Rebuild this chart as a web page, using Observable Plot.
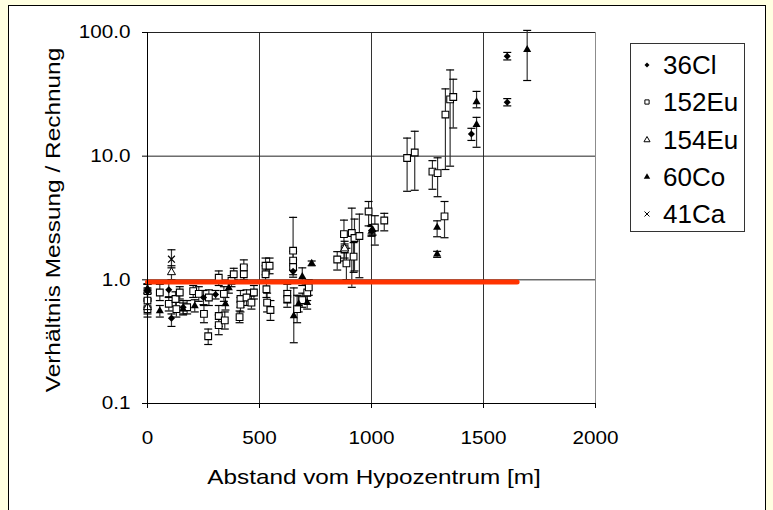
<!DOCTYPE html>
<html><head><meta charset="utf-8">
<script src="https://cdn.jsdelivr.net/npm/d3@7"></script>
<script src="https://cdn.jsdelivr.net/npm/@observablehq/plot@0.6"></script>
<style>
html,body{margin:0;padding:0;}
body{width:773px;height:510px;background:#FFFFE1;position:relative;overflow:hidden;font-family:"Liberation Sans",Arial,sans-serif;}
#box{position:absolute;left:8px;top:5px;width:758px;height:530px;background:#fff;border:1px solid #000;box-sizing:border-box;}
#chart{position:absolute;left:0;top:0;}
.title{position:absolute;white-space:nowrap;color:#000;transform-origin:center center;}
#xtitle{font-size:21px;line-height:21px;left:374px;top:466px;transform:translate(-50%,0) scaleX(1.156);}
#ytitle{font-size:20px;line-height:20px;left:53px;top:220px;transform:translate(-50%,-50%) rotate(-90deg) scaleX(1.22);}
#legend{position:absolute;left:630px;top:43px;width:115px;height:189px;border:1px solid #333;background:#fff;box-sizing:border-box;}
#legend .sym{position:absolute;}
#legend .lab{position:absolute;font-size:26px;line-height:26px;white-space:nowrap;color:#000;}
</style></head><body>
<div id="box"></div>
<div id="chart"></div>
<div id="xtitle" class="title">Abstand vom Hypozentrum [m]</div>
<div id="ytitle" class="title">Verhältnis Messung / Rechnung</div>
<div id="legend"></div>
<script>
// ---- data: [distance m, ratio, lower, upper] ----
const cl36 = [
  [0,0.80,0.70,0.92],[95,0.83,0.72,0.95],[107,0.49,0.42,0.53],[159,0.60,0.53,0.68],
  [250,0.72,0.63,0.82],[304,0.76,0.70,0.82],[650,1.17,1.05,1.30],[1000,2.50,2.30,2.75],
  [1446,15.1,13.4,16.8],[1606,27.3,25.5,29.2],[1606,64.3,60.0,69.0]
];
const eu152 = [
  [0,0.81,0.70,0.93],[0,0.68,0.60,0.78],[0,0.58,0.50,0.67],[55,0.79,0.68,0.92],
  [95,0.64,0.56,0.73],[125,0.70,0.61,0.80],[129,0.58,0.50,0.66],[144,0.79,0.70,0.88],
  [177,0.60,0.53,0.68],[204,0.81,0.72,0.90],[229,0.77,0.67,0.88],[252,0.53,0.45,0.62],
  [274,0.72,0.62,0.83],[271,0.35,0.30,0.40],[318,1.04,0.90,1.18],[318,0.51,0.42,0.62],
  [318,0.43,0.36,0.52],[341,0.77,0.67,0.88],[345,0.47,0.40,0.55],[375,0.98,0.88,1.08],
  [385,1.11,1.00,1.24],[411,0.50,0.45,0.56],[415,0.70,0.60,0.82],[415,0.63,0.55,0.72],
  [430,1.26,1.00,1.45],[430,1.11,0.95,1.30],[442,0.72,0.62,0.83],[464,0.655,0.58,0.74],
  [475,0.79,0.70,0.90],[527,1.30,1.10,1.50],[527,1.11,0.95,1.30],[545,1.30,1.12,1.50],
  [531,0.84,0.72,0.98],[534,0.655,0.55,0.78],[549,0.57,0.47,0.68],[624,0.77,0.65,0.92],
  [624,0.70,0.60,0.82],[650,1.72,1.20,3.20],[650,1.43,1.20,1.70],[650,1.27,1.10,1.45],
  [668,0.58,0.45,0.75],[691,0.685,0.60,0.78],[713,0.79,0.68,0.92],[720,0.87,0.75,1.00],
  [847,1.46,1.20,1.69],[877,2.34,1.42,3.04],[880,1.77,1.50,2.05],[888,1.36,1.00,1.80],
  [912,2.39,0.87,3.80],[920,1.54,1.15,2.00],[924,2.18,1.18,3.10],[946,2.26,1.04,3.40],
  [987,3.57,2.73,4.30],[1015,2.65,1.91,3.30],[1057,3.02,2.49,3.45],[1159,9.67,5.20,14.0],
  [1193,10.7,5.30,15.9],[1272,7.49,5.40,9.20],[1295,7.30,4.70,9.70],[1326,3.26,2.19,4.30],
  [1330,21.7,7.80,35.0],[1351,28.8,8.30,49.8],[1365,30.1,16.9,41.9]
];
const eu154 = [
  [0,0.60,0.53,0.68],[107,1.15,1.00,1.30],[880,1.79,1.65,1.95]
];
const co60 = [
  [0,0.85,0.78,0.92],[55,0.56,0.50,0.62],[159,0.58,0.52,0.65],[211,0.616,0.55,0.69],
  [348,0.64,0.57,0.72],[363,0.86,0.78,0.95],[653,0.51,0.31,0.86],[675,0.64,0.55,0.74],
  [691,1.06,0.90,1.25],[713,0.655,0.58,0.74],[733,1.36,1.30,1.42],[1000,2.46,2.25,2.70],
  [1005,2.55,2.30,2.80],[1293,2.65,2.23,3.00],[1293,1.61,1.52,1.70],[1469,27.5,24.6,33.4],
  [1469,18.0,11.8,20.6],[1695,72.8,40.9,104]
];
const ca41 = [
  [107,1.47,1.25,1.75]
];
const seriesNames = ["36Cl","152Eu","154Eu","60Co","41Ca"];
const xTicks = [0,500,1000,1500,2000];
const yTicks = [0.1,1,10,100];
const refLine = [{x:0,y:0.96},{x:1650,y:0.96}];

// ---- build ----
const seriesData = [cl36, eu152, eu154, co60, ca41];
const toRows = (arr, name) => arr.map(([x,y,lo,hi]) => ({series:name, x, y, lo, hi}));
const rows = seriesData.flatMap((arr,i) => toRows(arr, seriesNames[i]));
const byName = n => rows.filter(d => d.series === n);

const capSym = {draw(ctx, size){ const w = Math.sqrt(size/Math.PI); ctx.moveTo(-w,0); ctx.lineTo(w,0); }};

const plot = Plot.plot({
  width:773, height:510,
  marginLeft:147, marginRight:178, marginTop:32, marginBottom:107,
  style:{background:"transparent", fontFamily:"Liberation Sans, Arial, sans-serif", fontSize:"18px", color:"#000", overflow:"visible"},
  x:{domain:[0,2000], ticks:xTicks, tickFormat:d3.format("d")},
  y:{type:"log", domain:[0.1,100], ticks:yTicks, tickFormat:d3.format(".1f")},
  marks:[
    Plot.gridX({ticks:[500,1000,1500], stroke:"#333", strokeOpacity:1}),
    Plot.gridY({ticks:[1,10,100], stroke:"#222", strokeOpacity:1}),
    Plot.ruleX([2000], {stroke:"#8c8c8c"}),
    Plot.axisX({ticks:xTicks, tickSize:5, tickPadding:23, label:null, fontSize:18, tickFormat:d3.format("d")}),
    Plot.axisY({ticks:yTicks, tickSize:5, tickPadding:12, label:null, fontSize:18, tickFormat:d3.format(".1f")}),
    Plot.ruleX(rows, {x:"x", y1:"lo", y2:"hi", stroke:"#333", strokeWidth:1.2}),
    Plot.dot(rows, {x:"x", y:"lo", symbol:capSym, r:4, stroke:"#000", fill:"none", strokeWidth:1.2}),
    Plot.dot(rows, {x:"x", y:"hi", symbol:capSym, r:4, stroke:"#000", fill:"none", strokeWidth:1.2}),
    Plot.dot(byName("152Eu"), {x:"x", y:"y", symbol:"square", r:3.8, fill:"#fff", stroke:"#000", strokeWidth:1.1}),
    Plot.dot(byName("154Eu"), {x:"x", y:"y", symbol:"triangle", r:3.0, fill:"#fff", stroke:"#000", strokeWidth:1}),
    Plot.dot(byName("60Co"), {x:"x", y:"y", symbol:"triangle", r:3.0, fill:"#000", stroke:"none"}),
    Plot.dot(byName("36Cl"), {x:"x", y:"y", symbol:"diamond2", r:3.2, fill:"#000", stroke:"none"}),
    Plot.dot(byName("41Ca"), {x:"x", y:"y", symbol:"times", r:3.2, fill:"none", stroke:"#000", strokeWidth:1.2}),
    Plot.line(refLine, {x:"x", y:"y", stroke:"#ff3300", strokeWidth:5}),
    Plot.ruleX([0], {stroke:"#000"}),
    Plot.ruleY([0.1], {stroke:"#000"})
  ]
});

// horizontally stretch tick labels like the original
plot.querySelectorAll('g[aria-label$="tick label"] text').forEach(t => {
  const tr = t.getAttribute("transform");
  if (tr) t.setAttribute("transform", tr + " scale(1.15,1)");
  else {
    const x = +t.getAttribute("x") || 0, y = +t.getAttribute("y") || 0;
    t.removeAttribute("x"); t.removeAttribute("y");
    t.setAttribute("transform", `translate(${x},${y}) scale(1.15,1)`);
  }
});
document.getElementById("chart").appendChild(plot);

// ---- legend ----
const legendSymbols = {
  "36Cl": {type:d3.symbolDiamond2, size:16, fill:"#000", stroke:"none"},
  "152Eu": {type:d3.symbolSquare, size:18, fill:"#fff", stroke:"#000"},
  "154Eu": {type:d3.symbolTriangle, size:16, fill:"#fff", stroke:"#000"},
  "60Co": {type:d3.symbolTriangle, size:18, fill:"#000", stroke:"none"},
  "41Ca": {type:d3.symbolTimes, size:18, fill:"none", stroke:"#000"}
};
const legend = d3.select("#legend");
const rowCenters = [21, 58, 95.5, 133, 169.5];
seriesNames.forEach((name, i) => {
  const s = legendSymbols[name];
  const svg = legend.append("svg").attr("class","sym")
    .attr("width",12).attr("height",12)
    .style("left", (16 - 6) + "px").style("top", (rowCenters[i] - 6) + "px");
  svg.append("path").attr("transform","translate(6,6)")
    .attr("d", d3.symbol(s.type, s.size)())
    .attr("fill", s.fill).attr("stroke", s.stroke).attr("stroke-width", 1);
  legend.append("div").attr("class","lab")
    .style("left","32px").style("top", (rowCenters[i] - 12.7) + "px")
    .text(name);
});
</script>
</body></html>
